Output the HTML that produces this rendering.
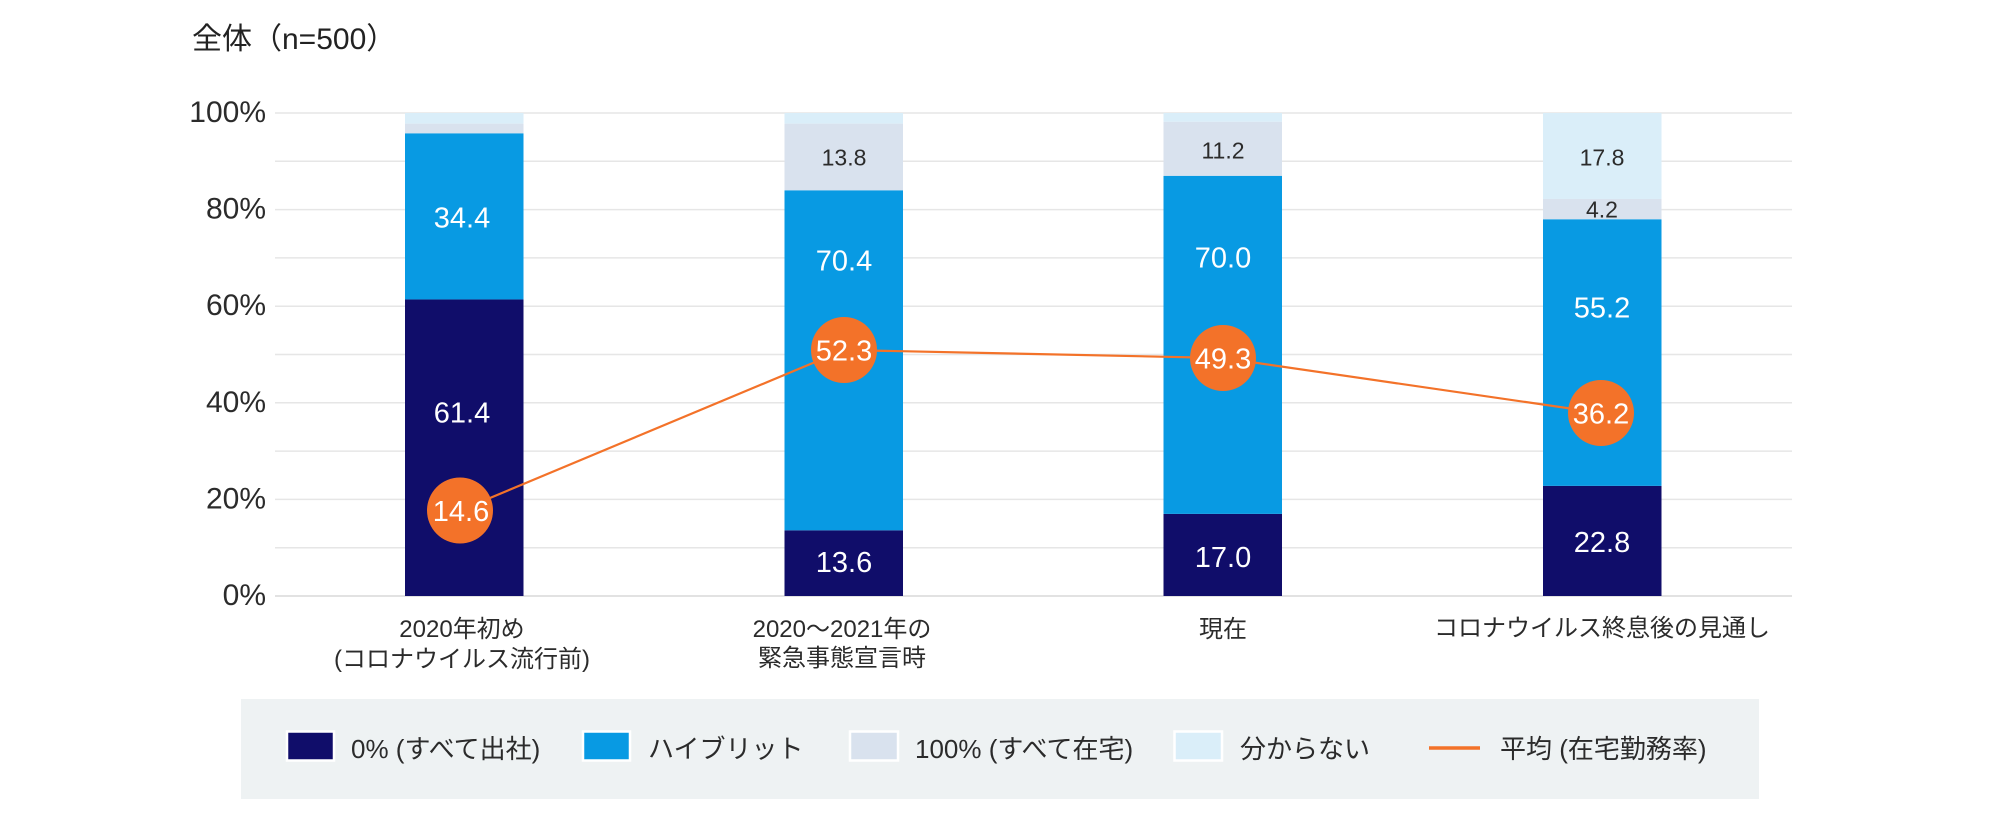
<!DOCTYPE html>
<html>
<head>
<meta charset="utf-8">
<style>
  html, body { margin:0; padding:0; background:#ffffff; }
  body { width:2000px; height:820px; overflow:hidden; }
  svg { display:block; }
  text { font-family: "Liberation Sans", "Noto Sans CJK JP", sans-serif; }
</style>
</head>
<body>
<svg width="2000" height="820" viewBox="0 0 2000 820" xmlns="http://www.w3.org/2000/svg">
  <rect x="0" y="0" width="2000" height="820" fill="#ffffff"/>

  <!-- Title -->
  <text x="192" y="49" font-size="30" fill="#222222">全体（n=500）</text>

  <!-- Gridlines -->
  <g stroke="#e6e6e6" stroke-width="1.5">
    <line x1="275" x2="1792" y1="113" y2="113"/>
    <line x1="275" x2="1792" y1="161.3" y2="161.3"/>
    <line x1="275" x2="1792" y1="209.6" y2="209.6"/>
    <line x1="275" x2="1792" y1="257.9" y2="257.9"/>
    <line x1="275" x2="1792" y1="306.2" y2="306.2"/>
    <line x1="275" x2="1792" y1="354.5" y2="354.5"/>
    <line x1="275" x2="1792" y1="402.8" y2="402.8"/>
    <line x1="275" x2="1792" y1="451.1" y2="451.1"/>
    <line x1="275" x2="1792" y1="499.4" y2="499.4"/>
    <line x1="275" x2="1792" y1="547.7" y2="547.7"/>
  </g>
  <line x1="275" x2="1792" y1="596" y2="596" stroke="#e2e2e2" stroke-width="2"/>

  <!-- Y axis labels -->
  <g font-size="30" fill="#2b2b2b" text-anchor="end">
    <text x="266" y="122">100%</text>
    <text x="266" y="218.6">80%</text>
    <text x="266" y="315.2">60%</text>
    <text x="266" y="411.8">40%</text>
    <text x="266" y="508.4">20%</text>
    <text x="266" y="605">0%</text>
  </g>

  <!-- Bars -->
  <!-- Bar 1 -->
  <rect x="405" y="299.44" width="118.5" height="296.56" fill="#100d6a"/>
  <rect x="405" y="133.29" width="118.5" height="166.15" fill="#089ae3"/>
  <rect x="405" y="123.63" width="118.5" height="9.66" fill="#d9e2ee"/>
  <rect x="405" y="113" width="118.5" height="10.63" fill="#daeef9"/>
  <!-- Bar 2 -->
  <rect x="784.5" y="530.31" width="118.5" height="65.69" fill="#100d6a"/>
  <rect x="784.5" y="190.28" width="118.5" height="340.03" fill="#089ae3"/>
  <rect x="784.5" y="123.63" width="118.5" height="66.65" fill="#d9e2ee"/>
  <rect x="784.5" y="113" width="118.5" height="10.63" fill="#daeef9"/>
  <!-- Bar 3 -->
  <rect x="1163.5" y="513.89" width="118.5" height="82.11" fill="#100d6a"/>
  <rect x="1163.5" y="175.79" width="118.5" height="338.1" fill="#089ae3"/>
  <rect x="1163.5" y="121.69" width="118.5" height="54.1" fill="#d9e2ee"/>
  <rect x="1163.5" y="113" width="118.5" height="8.69" fill="#daeef9"/>
  <!-- Bar 4 -->
  <rect x="1543" y="485.88" width="118.5" height="110.12" fill="#100d6a"/>
  <rect x="1543" y="219.26" width="118.5" height="266.62" fill="#089ae3"/>
  <rect x="1543" y="198.97" width="118.5" height="20.29" fill="#d9e2ee"/>
  <rect x="1543" y="113" width="118.5" height="85.97" fill="#daeef9"/>

  <!-- Bar value labels (white) -->
  <g font-size="29" fill="#ffffff" text-anchor="middle">
    <text x="462" y="227.5">34.4</text>
    <text x="462" y="422.5">61.4</text>
    <text x="844" y="270.5">70.4</text>
    <text x="844" y="572">13.6</text>
    <text x="1223" y="267.5">70.0</text>
    <text x="1223" y="567">17.0</text>
    <text x="1602" y="317.5">55.2</text>
    <text x="1602" y="552">22.8</text>
  </g>
  <!-- Bar value labels (dark) -->
  <g font-size="23" fill="#2b2b2b" text-anchor="middle">
    <text x="844" y="165.3">13.8</text>
    <text x="1223" y="158.5">11.2</text>
    <text x="1602" y="165.5">17.8</text>
    <text x="1602" y="217.5">4.2</text>
  </g>

  <!-- Average line -->
  <polyline points="460,510.5 844,350 1223,358 1601,413" fill="none" stroke="#f37229" stroke-width="2.2"/>
  <g fill="#f37229">
    <circle cx="460" cy="510.5" r="33"/>
    <circle cx="844" cy="350" r="33"/>
    <circle cx="1223" cy="358" r="33"/>
    <circle cx="1601" cy="413" r="33"/>
  </g>
  <g font-size="29" fill="#ffffff" text-anchor="middle">
    <text x="461" y="521">14.6</text>
    <text x="844" y="360.5">52.3</text>
    <text x="1223" y="368.5">49.3</text>
    <text x="1601" y="423.5">36.2</text>
  </g>

  <!-- X axis labels -->
  <g font-size="24" fill="#2b2b2b" text-anchor="middle">
    <text x="462" y="637">2020年初め</text>
    <text x="462" y="667">(コロナウイルス流行前)</text>
    <text x="842" y="637">2020〜2021年の</text>
    <text x="842" y="666">緊急事態宣言時</text>
    <text x="1223" y="637">現在</text>
    <text x="1602" y="636">コロナウイルス終息後の見通し</text>
  </g>

  <!-- Legend -->
  <rect x="241" y="699" width="1518" height="100" fill="#eef2f3"/>
  <g stroke="#ffffff" stroke-width="2.5">
    <rect x="287" y="731.5" width="47" height="29" fill="#100d6a"/>
    <rect x="583" y="731.5" width="47" height="29" fill="#089ae3"/>
    <rect x="850" y="731.5" width="48" height="29" fill="#d9e2ee"/>
    <rect x="1174.5" y="731.5" width="47.5" height="29" fill="#daeef9"/>
  </g>
  <line x1="1429" x2="1480" y1="748" y2="748" stroke="#f37229" stroke-width="3.5"/>
  <g font-size="26" fill="#2b2b2b">
    <text x="351" y="758">0% (すべて出社)</text>
    <text x="648" y="758">ハイブリット</text>
    <text x="915" y="758">100% (すべて在宅)</text>
    <text x="1240" y="758">分からない</text>
    <text x="1500" y="758">平均 (在宅勤務率)</text>
  </g>
</svg>
</body>
</html>
